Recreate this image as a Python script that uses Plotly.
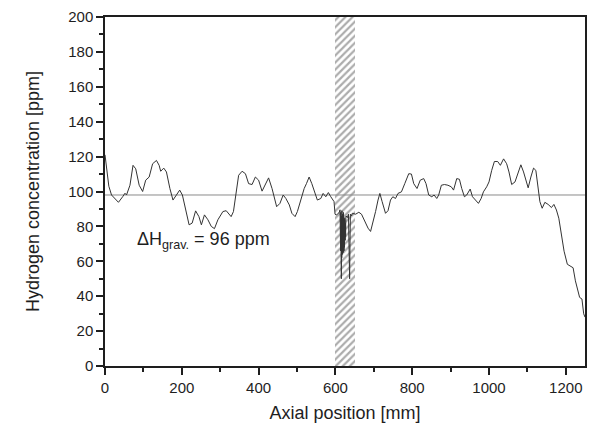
import plotly.graph_objects as go

# Axial hydrogen profile
x_mm = [0, 5, 10, 17, 26, 35, 46, 52, 56, 65, 73, 80, 89, 98, 106, 115, 124, 134, 141, 145,
        153, 160, 169, 177, 186, 194.5, 201.5, 210, 219, 227, 236, 244.6, 251, 259, 268, 276.7,
        285, 294, 302.6, 307, 315.6, 322, 328.5, 334.5, 341.5, 348, 357, 365.7, 374, 383, 391.6,
        400, 409, 417.5, 426, 435, 441, 447, 455.6, 464, 471, 480, 486.7, 495, 501, 510, 518.7,
        524.6, 531.6, 538.6, 547, 553, 562, 568, 575, 581.7, 588, 596.5, 599, 603, 607, 610,
        612, 612.5, 613, 613.5, 614, 614.5, 615, 615.5, 616, 616.5, 617, 617.5, 618, 618.5,
        619, 619.5, 620, 620.5, 621, 621.5, 622, 622.5, 623, 623.5, 624, 624.5, 625, 625.5,
        626, 626.5, 627, 628, 631, 634, 636, 637, 638, 639, 642, 644, 652.7, 661, 668, 677,
        685, 691.6, 697.6, 704.6, 711, 715.8, 721.7, 730.5, 737, 743.5, 749.5, 756.5, 763, 772,
        780.6, 791, 798, 804, 812.5, 821, 830, 836, 843, 851, 857, 864, 869, 876, 884, 893,
        901.7, 907.7, 916, 923, 929, 936, 942, 951, 957, 964, 972.5, 979.5, 985.5, 994, 1000,
        1007, 1014, 1022.6, 1029.6, 1038, 1046, 1052, 1059, 1067.7, 1076, 1083, 1090, 1096,
        1102, 1109, 1116, 1122, 1128, 1132.5, 1138.5, 1145.5, 1154, 1162.6, 1169, 1175.6,
        1181.8, 1188.6, 1195.5, 1204, 1213, 1219, 1225, 1230, 1236, 1242, 1246.6, 1250]
h_ppm = [121, 112, 103, 98, 96, 93.8, 97, 99, 98, 103.6, 115, 113, 103.6, 100, 106.5, 108.3,
         115.9, 117.8, 115, 111.6, 113.4, 111.2, 101.7, 95.1, 98, 100.8, 98, 89.4, 80.9, 81.9,
         88.9, 85.6, 80.9, 86.6, 83.8, 80, 78.7, 83.8, 86.6, 88.5, 89, 87.5, 85.6, 88.5, 99.8,
         109.3, 111.6, 110.2, 104.5, 104, 108.3, 106.5, 100.2, 103.6, 107.8, 101.7, 96, 91.3,
         93.2, 98, 96, 92.3, 87.5, 85.6, 88.5, 96, 101.7, 104.5, 108.3, 104.5, 98.9, 95.1, 96,
         98.9, 97, 99.4, 97, 94.2, 87, 86.5, 87.5, 88,
         89.5, 72, 89, 66, 88, 58, 87, 50, 86, 62, 89, 66, 88, 64, 87, 67, 86, 65, 88, 68,
         86, 66, 85, 68, 84, 70, 83, 72, 82, 74, 85, 86, 85, 87, 60, 50, 70, 87, 86, 87.5,
         87, 88.1, 87, 82.8, 79, 77.1, 81.9, 88.5, 95.1, 98.9, 94.2, 87.5, 89, 95.1, 97, 96,
         98.9, 99.8, 104.5, 110.2, 110, 104.5, 101.7, 106.5, 107.4, 104.5, 98, 97, 98, 96, 98,
         103.6, 104, 103.6, 102.7, 100.8, 107.4, 107, 101.7, 97, 98, 101.4, 97, 95.1, 93.2, 96,
         99.8, 102.7, 105.5, 112.1, 117.2, 117.2, 115, 118.7, 115.9, 111.2, 104, 105.5, 110.2,
         115.3, 111.2, 106.5, 102.1, 108.3, 113.4, 112.1, 99.8, 94.2, 90.4, 93.8, 92.6, 90.8,
         92.6, 89.4, 84.7, 75.3, 65.8, 58.3, 57.3, 56.3, 48.8, 45, 39.3, 38.4, 29.9, 28]

band_start, band_end = 600, 650          # hatched zone [mm]
band_top = 200
mean_x = [0, 1250]
mean_ppm = [98, 98]                      # horizontal reference level
delta_label = "ΔH<sub>grav.</sub> = 96 ppm"

FONT = "Liberation Sans, Arial, sans-serif"
INK = "#1e1e1e"

fig = go.Figure()

fig.add_trace(go.Bar(
    x=[(band_start + band_end) / 2], y=[band_top], width=[band_end - band_start],
    marker=dict(color="white", line_width=0,
                pattern=dict(shape="/", fgcolor="#5a5a5a", bgcolor="white",
                             size=5, solidity=0.45)),
    hoverinfo="skip", showlegend=False))

fig.add_trace(go.Scatter(x=mean_x, y=mean_ppm, mode="lines",
                         line=dict(color="#8a8a8a", width=1), showlegend=False))

fig.add_trace(go.Scatter(x=x_mm, y=h_ppm, mode="lines",
                         line=dict(color="#333333", width=1), showlegend=False))

fig.add_annotation(x=78, y=72, xref="x", yref="y", text=delta_label, showarrow=False,
                   xanchor="left", yanchor="middle",
                   font=dict(family=FONT, size=18, color=INK))

axis_common = dict(showline=True, linecolor=INK, linewidth=1.5, mirror=True,
                   ticks="outside", ticklen=7, tickwidth=1.5, tickcolor=INK,
                   showgrid=False, zeroline=False,
                   tickfont=dict(family=FONT, size=15, color=INK))

fig.update_xaxes(range=[0, 1250], dtick=200, tick0=0,
                 minor=dict(ticks="outside", ticklen=4, tickwidth=1.5, tickcolor=INK, dtick=100),
                 title=dict(text="Axial position [mm]", font=dict(family=FONT, size=18, color=INK),
                            standoff=12),
                 **axis_common)
fig.update_yaxes(range=[0, 200], dtick=20, tick0=0,
                 minor=dict(ticks="outside", ticklen=4, tickwidth=1.5, tickcolor=INK, dtick=10),
                 title=dict(text="Hydrogen concentration [ppm]",
                            font=dict(family=FONT, size=18, color=INK), standoff=24),
                 **axis_common)

fig.update_layout(width=595, height=430, margin=dict(l=105, r=8, t=13, b=64),
                  paper_bgcolor="white", plot_bgcolor="white", bargap=0,
                  showlegend=False)

fig.write_html("out.html")
